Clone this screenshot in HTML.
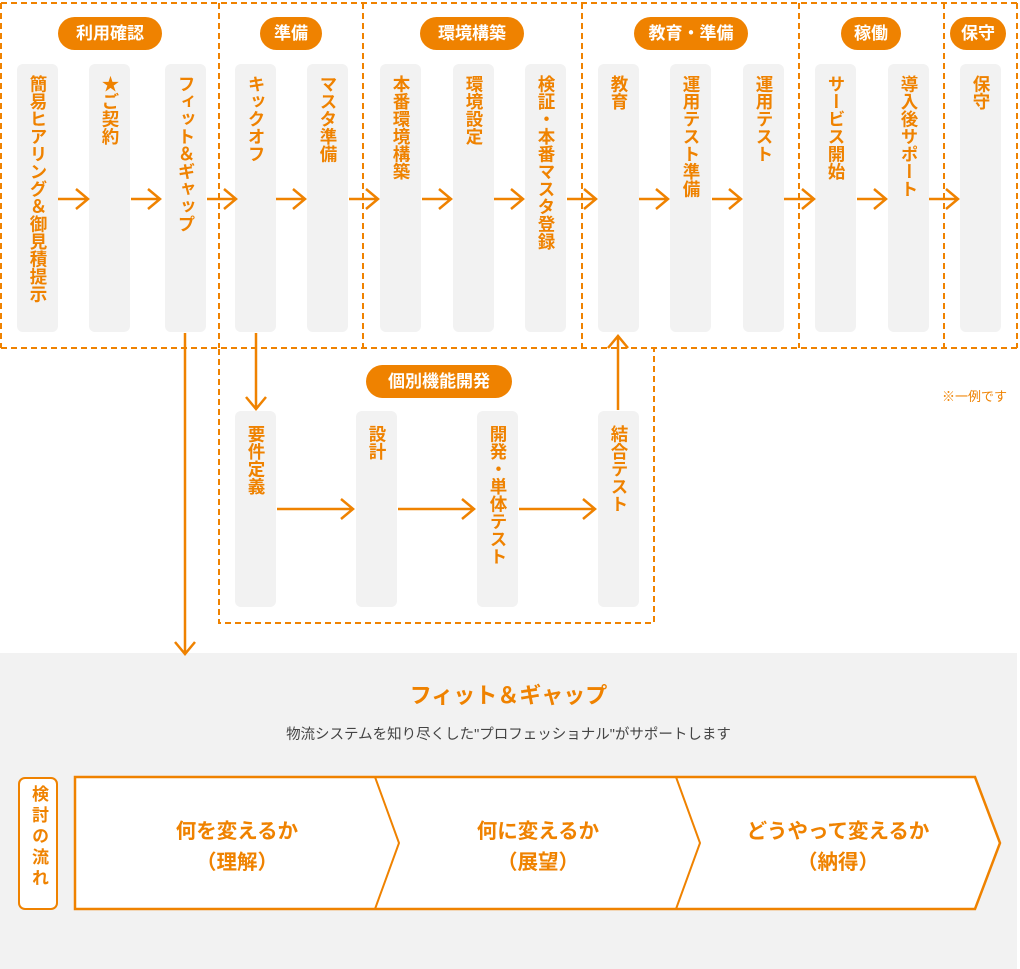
<!DOCTYPE html>
<html><head><meta charset="utf-8"><style>
body{margin:0;width:1020px;height:969px;position:relative;background:#fff;font-family:"Liberation Sans","Noto Sans CJK JP",sans-serif;overflow:hidden}
.c{position:absolute;width:41px;background:#f2f2f2;border-radius:6px}
.t{position:absolute;writing-mode:vertical-rl;color:#ef8200;font-weight:bold;font-size:17.5px;letter-spacing:0;line-height:41px;width:41px;text-align:start}
.p{position:absolute;height:33px;line-height:33px;border-radius:17px;background:#ef8200;color:#fff;font-weight:bold;font-size:17px;text-align:center}
.bt{position:absolute;color:#ef8200;font-weight:bold;font-size:20.5px;text-align:center;line-height:31px;width:300px}
</style></head><body>
<svg width="1020" height="969" style="position:absolute;left:0;top:0">
<rect x="0" y="653" width="1017" height="316" fill="#f2f2f2"/>
<g fill="none" stroke="#ef8200" stroke-width="2" stroke-dasharray="6,4">
<path d="M1 3H1017M1 348H1017"/>
<path d="M1 3V348M219 3V348M363 3V348M582 3V348M799 3V348M944 3V348M1017 3V348"/>
<path d="M219 349V623H654V349"/>
</g>
</svg>
<div class="p" style="left:58px;top:17px;width:104px">利用確認</div>
<div class="p" style="left:260px;top:17px;width:62px">準備</div>
<div class="p" style="left:420px;top:17px;width:104px">環境構築</div>
<div class="p" style="left:634px;top:17px;width:114px">教育・準備</div>
<div class="p" style="left:841px;top:17px;width:60px">稼働</div>
<div class="p" style="left:950px;top:17px;width:56px">保守</div>
<div class="p" style="left:366px;top:365px;width:146px">個別機能開発</div>

<div class="c" style="left:17px;top:64px;height:268px"></div><div class="t" style="left:17px;top:75px">簡易ヒアリング＆御見積提示</div>
<div class="c" style="left:89px;top:64px;height:268px"></div><div class="t" style="left:89px;top:75px">★ご契約</div>
<div class="c" style="left:165px;top:64px;height:268px"></div><div class="t" style="left:165px;top:75px">フィット＆ギャップ</div>
<div class="c" style="left:235px;top:64px;height:268px"></div><div class="t" style="left:235px;top:75px">キックオフ</div>
<div class="c" style="left:307px;top:64px;height:268px"></div><div class="t" style="left:307px;top:75px">マスタ準備</div>
<div class="c" style="left:380px;top:64px;height:268px"></div><div class="t" style="left:380px;top:75px">本番環境構築</div>
<div class="c" style="left:453px;top:64px;height:268px"></div><div class="t" style="left:453px;top:75px">環境設定</div>
<div class="c" style="left:525px;top:64px;height:268px"></div><div class="t" style="left:525px;top:75px">検証・本番マスタ登録</div>
<div class="c" style="left:598px;top:64px;height:268px"></div><div class="t" style="left:598px;top:75px">教育</div>
<div class="c" style="left:670px;top:64px;height:268px"></div><div class="t" style="left:670px;top:75px">運用テスト準備</div>
<div class="c" style="left:743px;top:64px;height:268px"></div><div class="t" style="left:743px;top:75px">運用テスト</div>
<div class="c" style="left:815px;top:64px;height:268px"></div><div class="t" style="left:815px;top:75px">サービス開始</div>
<div class="c" style="left:888px;top:64px;height:268px"></div><div class="t" style="left:888px;top:75px">導入後サポート</div>
<div class="c" style="left:960px;top:64px;height:268px"></div><div class="t" style="left:960px;top:75px">保守</div>

<div class="c" style="left:235px;top:411px;height:196px"></div><div class="t" style="left:235px;top:425px">要件定義</div>
<div class="c" style="left:356px;top:411px;height:196px"></div><div class="t" style="left:356px;top:425px">設計</div>
<div class="c" style="left:477px;top:411px;height:196px"></div><div class="t" style="left:477px;top:425px">開発・単体テスト</div>
<div class="c" style="left:598px;top:411px;height:196px"></div><div class="t" style="left:598px;top:425px">結合テスト</div>

<div style="position:absolute;left:942px;top:386px;font-size:13px;color:#ef8200">※一例です</div>

<svg width="1020" height="969" style="position:absolute;left:0;top:0">
<g fill="none" stroke="#ef8200" stroke-width="2.5">
<path d="M58 199H88M76 189L88 199L76 209"/>
<path d="M131 199H160M148 189L160 199L148 209"/>
<path d="M207 199H236M224 189L236 199L224 209"/>
<path d="M276 199H305M293 189L305 199L293 209"/>
<path d="M349 199H378M366 189L378 199L366 209"/>
<path d="M422 199H451M439 189L451 199L439 209"/>
<path d="M494 199H523M511 189L523 199L511 209"/>
<path d="M567 199H596M584 189L596 199L584 209"/>
<path d="M639 199H668M656 189L668 199L656 209"/>
<path d="M712 199H741M729 189L741 199L729 209"/>
<path d="M784 199H814M802 189L814 199L802 209"/>
<path d="M857 199H886M874 189L886 199L874 209"/>
<path d="M929 199H958M946 189L958 199L946 209"/>
<path d="M277 509H353M341 499L353 509L341 519"/>
<path d="M398 509H474M462 499L474 509L462 519"/>
<path d="M519 509H595M583 499L595 509L583 519"/>
<path d="M185 333V654M175 642L185 654L195 642"/>
<path d="M256 333V409M246 397L256 409L266 397"/>
<path d="M618 410V336M608 348L618 336L628 348"/>
</g>
</svg>

<div style="position:absolute;left:0;top:678px;width:1017px;text-align:center;color:#ef8200;font-weight:bold;font-size:22px">フィット＆ギャップ</div>
<div style="position:absolute;left:0;top:723px;width:1017px;text-align:center;color:#444;font-size:14.5px">物流システムを知り尽くした"プロフェッショナル"がサポートします</div>
<div style="position:absolute;left:18px;top:777px;width:36px;height:129px;border:2px solid #ef8200;border-radius:7px;background:#fff;box-sizing:content-box"></div>
<div style="position:absolute;left:20px;top:785px;width:36px;writing-mode:vertical-rl;line-height:36px;color:#ef8200;font-weight:bold;font-size:17px;letter-spacing:4px">検討の流れ</div>
<svg width="1020" height="969" style="position:absolute;left:0;top:0">
<path d="M75 777H975L1000 843L975 909H75Z" fill="#fff" stroke="#ef8200" stroke-width="2.5"/>
<path d="M375 777L399 843L375 909M676 777L700 843L676 909" fill="none" stroke="#ef8200" stroke-width="2"/>
</svg>
<div class="bt" style="left:87px;top:816px">何を変えるか<br>（理解）</div>
<div class="bt" style="left:388px;top:816px">何に変えるか<br>（展望）</div>
<div class="bt" style="left:688px;top:816px">どうやって変えるか<br>（納得）</div>
</body></html>
